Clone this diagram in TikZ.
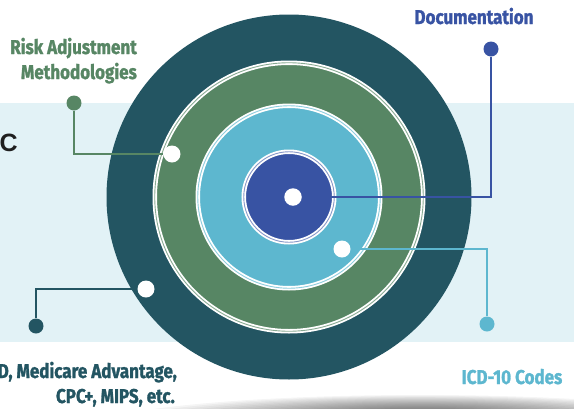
\documentclass[tikz,border=0pt]{standalone}
\usepackage{fontspec}
\setmainfont{Liberation Sans}
\newfontfamily\cf[FakeStretch=0.85, BoldFeatures={FakeBold=1.3}]{Fira Sans}
\definecolor{cTeal}{HTML}{235562}
\definecolor{cGreen}{HTML}{578664}
\definecolor{cCyan}{HTML}{5DB7CF}
\definecolor{cBlue}{HTML}{3853A3}
\definecolor{cBand}{HTML}{E2F2F6}
\tikzset{
  lbl/.style={font=\cf\bfseries\fontsize{20}{22}\selectfont, inner sep=0pt},
  wdot/.style={circle, fill=white, minimum size=17pt, inner sep=0pt},
  edot/.style={circle, minimum size=15pt, inner sep=0pt},
  conn/.style={line width=2pt},
  ringedge/.style={draw=white, line width=4.5pt},
}
\begin{document}
\begin{tikzpicture}[x=1pt,y=-1pt]
\useasboundingbox (0,0) rectangle (574,408);
\clip (0,0) rectangle (574,408);
% shadow
\foreach \i in {0,...,14}
  \fill[black, opacity=0.038] (420,432) ellipse[x radius={(340-\i*15)*1pt}, y radius={(37-\i*0.9)*1pt}];
% band
\fill[cBand] (0,103) rectangle (574,342);
% rings
\coordinate (ctr) at (289,197);
\fill[cTeal] (ctr) circle[radius=182.5pt];
\fill[cGreen] (ctr) circle[radius=134.25pt];
\draw[ringedge] (ctr) circle[radius=134.25pt];
\draw[cGreen!70!white, line width=0.9pt] (ctr) circle[radius=134.25pt];
\fill[cCyan] (ctr) circle[radius=91.25pt];
\draw[ringedge] (ctr) circle[radius=91.25pt];
\draw[cCyan!70!white, line width=0.9pt] (ctr) circle[radius=91.25pt];
\fill[cBlue] (ctr) circle[radius=45.25pt];
\draw[ringedge] (ctr) circle[radius=45.25pt];
\draw[cBlue!60!white, line width=0.9pt] (ctr) circle[radius=45.25pt];
% dots
\node[wdot] (wGreen) at (172,154) {};
\node[wdot] (wTeal) at (146,289) {};
\node[wdot] (wCyan) at (342,249) {};
\node[wdot, minimum size=17.5pt] (wBlue) at (293,197) {};
\node[edot, fill=cGreen] (eGreen) at (74,103) {};
\node[edot, fill=cTeal] (eTeal) at (36,326) {};
\node[edot, fill=cBlue] (eBlue) at (491,49) {};
\node[edot, fill=cCyan] (eCyan) at (487,324) {};
% connectors
\draw[conn, cGreen] (eGreen) |- (wGreen);
\draw[conn, cTeal] (eTeal) |- (wTeal);
\draw[conn, cBlue] (wBlue) -| (eBlue);
\draw[conn, cCyan] (wCyan) -| (eCyan);
% texts
\node[lbl, text=cGreen, anchor=base east] (risk1) at (137,54) {Risk Adjustment};
\node[lbl, text=cGreen, anchor=base east] (risk2) at (137,79) {Methodologies};
\node[lbl, text=cBlue, anchor=base] (doc) at (474,24) {Documentation};
\node[lbl, text=cCyan, anchor=base] (icd) at (512,384) {ICD-10 Codes};
\node[lbl, text=cTeal, anchor=base east] (prog1) at (177,378) {D, Medicare Advantage,};
\node[lbl, text=cTeal, anchor=base east] (prog2) at (175,403) {CPC+, MIPS, etc.};
\node[anchor=base east, inner sep=0pt, font=\bfseries\fontsize{25}{25}\selectfont, text=black!88] (cLetter) at (18,151) {C};
\end{tikzpicture}
\end{document}
